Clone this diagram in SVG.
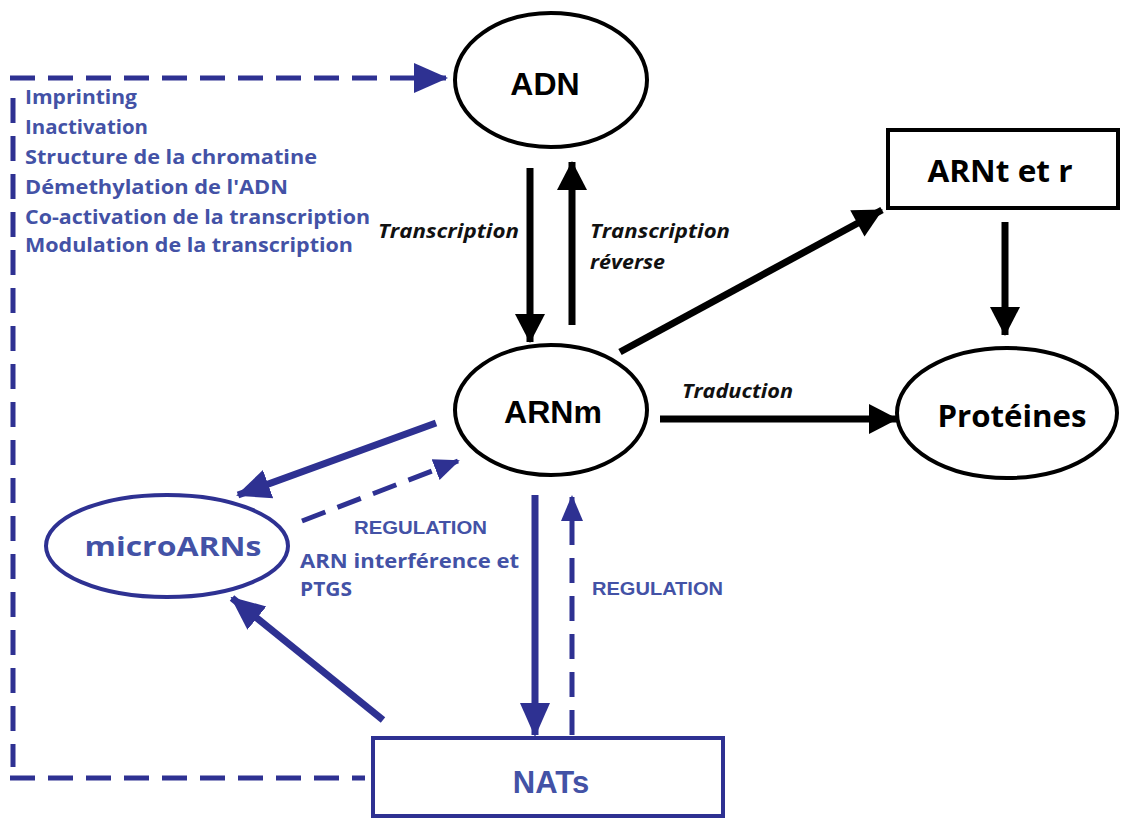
<svg xmlns="http://www.w3.org/2000/svg" width="1135" height="819" viewBox="0 0 1135 819">
<defs>
<marker id="ab" markerUnits="userSpaceOnUse" markerWidth="32" markerHeight="32" viewBox="0 0 32 32" refX="29" refY="16" orient="auto"><path d="M1,1 L30,16 L1,31 Z" fill="#000"/></marker>
<marker id="au" markerUnits="userSpaceOnUse" markerWidth="34" markerHeight="34" viewBox="0 0 34 34" refX="32" refY="17" orient="auto"><path d="M0,2 L34,17 L0,32 Z" fill="#2e3192"/></marker>
<marker id="aus" markerUnits="userSpaceOnUse" markerWidth="26" markerHeight="26" viewBox="0 0 26 26" refX="24" refY="13" orient="auto"><path d="M0,2 L26,13 L0,24 Z" fill="#2e3192"/></marker>
</defs>
<style>
.bk{stroke:#000;stroke-width:7;fill:none}
.bl{stroke:#2e3192;stroke-width:7;fill:none}
.bd{stroke:#2e3192;stroke-width:5;fill:none;stroke-dasharray:25 13}
.nb{fill:#fff;stroke:#000;stroke-width:4}
.nu{fill:#fff;stroke:#2e3192;stroke-width:4}
.t1{font-family:"Liberation Sans",Arial,sans-serif;font-weight:bold;text-anchor:middle}
.t2{font-family:"Open Sans","DejaVu Sans",sans-serif;font-weight:bold;text-anchor:middle}
.lst{font-family:"Open Sans","DejaVu Sans",sans-serif;font-weight:bold;font-size:19px;fill:#4352a6}
.it{font-family:"Open Sans","DejaVu Sans",sans-serif;font-weight:bold;font-style:italic;font-size:19px;fill:#111}
.rg{font-family:"Liberation Sans",Arial,sans-serif;font-weight:bold;font-size:19px;fill:#4352a6}
</style>
<rect width="1135" height="819" fill="#fff"/>
<g id="connectors">
<path class="bd" d="M10,78 L446,78" marker-end="url(#au)"/>
<path class="bd" d="M13,98 L13,767"/>
<path class="bd" d="M10,778 L365,778"/>
<line class="bk" x1="530" y1="168" x2="530" y2="342" marker-end="url(#ab)"/>
<line class="bk" x1="572" y1="325" x2="572" y2="162" marker-end="url(#ab)"/>
<line class="bk" x1="620" y1="352" x2="882" y2="210" marker-end="url(#ab)"/>
<line class="bk" x1="1005" y1="222" x2="1005" y2="335" marker-end="url(#ab)"/>
<line class="bk" x1="660" y1="419" x2="897" y2="419" marker-end="url(#ab)"/>
<line class="bl" x1="436" y1="423" x2="238" y2="495" marker-end="url(#au)"/>
<line class="bd" x1="302" y1="521" x2="458" y2="461" marker-end="url(#aus)"/>
<line class="bl" x1="383" y1="720" x2="232" y2="598" marker-end="url(#au)"/>
<line class="bl" x1="535" y1="495" x2="535" y2="735" marker-end="url(#au)"/>
<line class="bd" x1="572" y1="735" x2="572" y2="497" marker-end="url(#aus)"/>
</g>
<g id="list">
<text class="lst" x="25" y="104" textLength="112" lengthAdjust="spacingAndGlyphs">Imprinting</text>
<text class="lst" x="25" y="134" textLength="123" lengthAdjust="spacingAndGlyphs">Inactivation</text>
<text class="lst" x="25" y="164" textLength="292" lengthAdjust="spacingAndGlyphs">Structure de la chromatine</text>
<text class="lst" x="25" y="194" textLength="263" lengthAdjust="spacingAndGlyphs">Démethylation de l'ADN</text>
<text class="lst" x="25" y="224" textLength="345" lengthAdjust="spacingAndGlyphs">Co-activation de la transcription</text>
<text class="lst" x="25" y="252" textLength="328" lengthAdjust="spacingAndGlyphs">Modulation de la transcription</text>
</g>
<g id="labels">
<text class="it" x="378" y="238" textLength="141" lengthAdjust="spacingAndGlyphs">Transcription</text>
<text class="it" x="590" y="238" textLength="140" lengthAdjust="spacingAndGlyphs">Transcription</text>
<text class="it" x="590" y="269" textLength="75" lengthAdjust="spacingAndGlyphs">réverse</text>
<text class="it" x="682" y="398" textLength="111" lengthAdjust="spacingAndGlyphs">Traduction</text>
<text class="rg" x="354" y="534" textLength="133" lengthAdjust="spacingAndGlyphs">REGULATION</text>
<text class="lst" x="300" y="568" textLength="219" lengthAdjust="spacingAndGlyphs">ARN interférence et</text>
<text class="lst" x="300" y="596" textLength="52" lengthAdjust="spacingAndGlyphs">PTGS</text>
<text class="rg" x="592" y="595" textLength="131" lengthAdjust="spacingAndGlyphs">REGULATION</text>
</g>
<g id="node-adn"><ellipse class="nb" cx="551" cy="80" rx="96" ry="67"/><text class="t1" x="545" y="95" font-size="32">ADN</text></g>
<g id="node-arnm"><ellipse class="nb" cx="551" cy="410" rx="96" ry="65"/><text class="t1" x="553" y="423" font-size="32">ARNm</text></g>
<g id="node-arnt"><rect class="nb" x="888" y="130" width="230" height="78"/><text class="t2" x="1000" y="182" font-size="30" textLength="145" lengthAdjust="spacingAndGlyphs">ARNt et r</text></g>
<g id="node-proteines"><ellipse class="nb" cx="1007" cy="413" rx="110" ry="65"/><text class="t2" x="1012" y="427" font-size="30" textLength="149" lengthAdjust="spacingAndGlyphs">Protéines</text></g>
<g id="node-microarns"><ellipse class="nu" cx="167" cy="546" rx="121" ry="51"/><text class="t2" x="173" y="556" font-size="27" fill="#4352a6" textLength="177" lengthAdjust="spacingAndGlyphs">microARNs</text></g>
<g id="node-nats"><rect class="nu" x="373" y="738" width="350" height="78"/><text class="t1" x="551" y="793" font-size="31" fill="#4352a6">NATs</text></g>
</svg>
